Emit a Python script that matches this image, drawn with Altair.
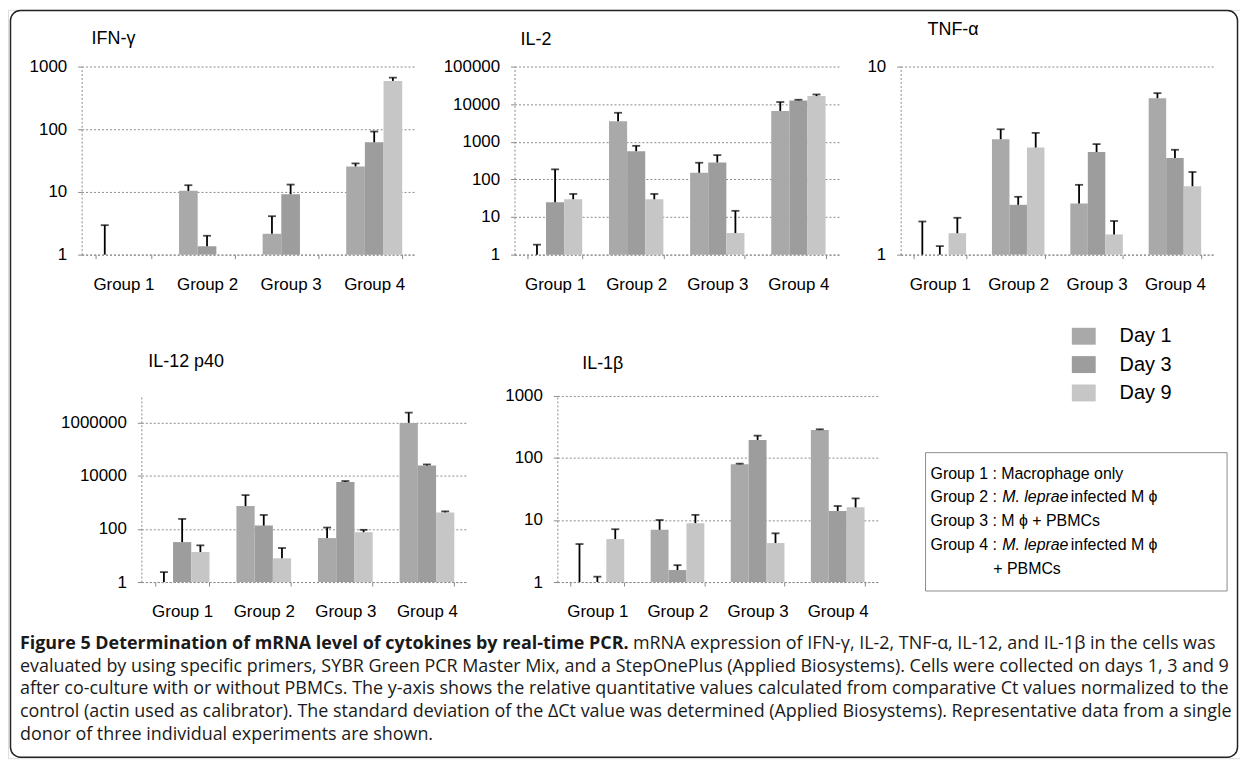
import altair as alt
import pandas as pd

# ---------------- data ----------------
groups = ["Group 1", "Group 2", "Group 3", "Group 4"]
days = ["Day 1", "Day 3", "Day 9"]
day_colors = ["#a9a9a9", "#9d9d9d", "#c6c6c6"]

titles = ["IFN-γ", "IL-2", "TNF-α", "IL-12 p40", "IL-1β"]

# relative quantity (bar height) and top of error bar, per group, per day [Day 1, Day 3, Day 9]
ifng_mean = [[1, 1, 1], [10.4, 1.36, 1], [2.15, 9.2, 1], [25.5, 62, 590]]
ifng_upper = [[2.95, 1, 1], [12.8, 2.0, 1], [4.1, 13.1, 1], [28.5, 92, 665]]

il2_mean = [[1, 24.7, 29.7], [3510, 563, 29.6], [150, 283, 3.74], [6600, 12600, 16400]]
il2_upper = [[1.84, 185, 41], [5900, 780, 41], [277, 442, 14.6], [11400, 13100, 18100]]

tnfa_mean = [[1, 1, 1.30], [4.11, 1.84, 3.71], [1.87, 3.51, 1.28], [6.79, 3.26, 2.31]]
tnfa_upper = [[1.50, 1.11, 1.57], [4.64, 2.03, 4.44], [2.35, 3.87, 1.51], [7.22, 3.61, 2.75]]

il12_mean = [[1, 31.8, 13.5], [720, 133, 7.8], [45, 5800, 75], [970000, 24300, 417]]
il12_upper = [[2.36, 236, 24], [1860, 333, 19], [112, 6300, 92], [2360000, 26500, 455]]

il1b_mean = [[1, 1, 4.93], [6.95, 1.56, 8.9], [79, 195, 4.25], [282, 14, 16]]
il1b_upper = [[4.1, 1.22, 7.1], [10, 1.87, 12.1], [81, 229, 6.1], [290, 16.8, 22.3]]

y_max = [1000, 100000, 10, 10000000, 1000]
y_ticks = [
    [1, 10, 100, 1000],
    [1, 10, 100, 1000, 10000, 100000],
    [1, 10],
    [1, 100, 10000, 1000000],
    [1, 10, 100, 1000],
]

box_lines = [
    [("Group 1 : Macrophage only", "normal")],
    [("Group 2 : ", "normal"), ("M. leprae", "italic"), ("infected M ϕ", "normal")],
    [("Group 3 : M ϕ + PBMCs", "normal")],
    [("Group 4 : ", "normal"), ("M. leprae", "italic"), ("infected M ϕ", "normal")],
    [("", "normal"), ("+ PBMCs", "normal")],
]

caption_bold = "Figure 5 Determination of mRNA level of cytokines by real-time PCR."
caption_lines = [
    "mRNA expression of IFN-γ, IL-2, TNF-α, IL-12, and IL-1β in the cells was",
    "evaluated by using specific primers, SYBR Green PCR Master Mix, and a StepOnePlus (Applied Biosystems). Cells were collected on days 1, 3 and 9",
    "after co-culture with or without PBMCs. The y-axis shows the relative quantitative values calculated from comparative Ct values normalized to the",
    "control (actin used as calibrator). The standard deviation of the ΔCt value was determined (Applied Biosystems). Representative data from a single",
    "donor of three individual experiments are shown.",
]

# ---------------- layout / style (canvas pixels) ----------------
FONT = "Liberation Sans"
CAP_FONT = "Open Sans"
CAP_SIZE = 18
GRID = "#8a8a8a"
W, H = 1238, 752

# plot-area boxes: (left, right, top, bottom)
boxes = [
    (74, 410, 57, 246),
    (509, 835, 57, 246),
    (897, 1212, 57, 246),
    (134, 462, 388, 575),
    (552, 874, 388, 575),
]
# title anchor (x, baseline y)
title_xy = [(84, 34), (515, 35), (924, 25), (141, 359), (577, 361)]

color_scale = alt.Scale(domain=days, range=day_colors)


def one_row(**kw):
    return pd.DataFrame({k: [v] for k, v in kw.items()})


def panel_layers(i, mean, upper):
    x0, x1, y0, y1 = boxes[i]
    rows = []
    for gi, g in enumerate(groups):
        for di, d in enumerate(days):
            rows.append({"group": g, "day": d, "value": mean[gi][di], "upper": upper[gi][di]})
    base = alt.Chart(pd.DataFrame(rows))
    xaxis = alt.Axis(title=None, orient="bottom", offset=y1 - H, labelAngle=0, labelFont=FONT,
                     labelFontSize=17, labelColor="black", labelPadding=18, ticks=True,
                     tickBand="extent", tickSize=4, tickColor=GRID, domainColor=GRID,
                     domainDash=[2, 2], grid=False)
    yax = alt.Axis(title=None, orient="left", offset=-x0, values=y_ticks[i], format="d",
                   labelFont=FONT, labelFontSize=17, labelColor="black", labelPadding=11,
                   tickSize=4, tickColor=GRID, grid=True, gridColor=GRID, gridDash=[2, 2],
                   domainColor=GRID, domainDash=[2, 2])

    def xs():
        return alt.Scale(domain=groups, range=[x0, x1], paddingInner=0.33, paddingOuter=0.165)

    def ys():
        return alt.Scale(type="log", domain=[1, y_max[i]], range=[y1, y0], nice=False)

    def xos():
        return alt.Scale(domain=days, paddingInner=0, paddingOuter=0)

    bars = base.mark_bar().encode(
        x=alt.X("group:N", sort=groups, scale=xs(), axis=xaxis),
        xOffset=alt.XOffset("day:N", sort=days, scale=xos()),
        y=alt.Y("value:Q", scale=ys(), axis=yax),
        y2=alt.datum(1),
        color=alt.Color("day:N", scale=color_scale, legend=None),
    )
    err = base.transform_filter("datum.upper > datum.value").mark_rule(color="black", strokeWidth=1.8).encode(
        x=alt.X("group:N", sort=groups, scale=xs(), axis=None),
        xOffset=alt.XOffset("day:N", sort=days, scale=xos()),
        y=alt.Y("value:Q", scale=ys(), axis=None), y2="upper:Q")
    cap = base.transform_filter("datum.upper > datum.value").mark_tick(
        color="black", thickness=1.8, size=8, orient="horizontal").encode(
        x=alt.X("group:N", sort=groups, scale=xs(), axis=None),
        xOffset=alt.XOffset("day:N", sort=days, scale=xos()),
        y=alt.Y("upper:Q", scale=ys(), axis=None))
    tx, ty = title_xy[i]
    ttl = alt.Chart(one_row(t=titles[i])).mark_text(
        align="left", baseline="alphabetic", font=FONT, fontSize=18, color="black").encode(
        text="t:N", x=alt.value(tx), y=alt.value(ty))
    return [bars, err, cap, ttl]


layers = []
for i, (m, u) in enumerate([(ifng_mean, ifng_upper), (il2_mean, il2_upper), (tnfa_mean, tnfa_upper),
                            (il12_mean, il12_upper), (il1b_mean, il1b_upper)]):
    layers.extend(panel_layers(i, m, u))

# ---------------- legend + group description box ----------------
leg_df = pd.DataFrame({"day": days})
leg_sq = alt.Chart(leg_df).mark_point(
    shape="M-1.2,-0.85L1.2,-0.85L1.2,0.85L-1.2,0.85Z", size=400, filled=True, opacity=1).encode(
    x=alt.value(1081),
    y=alt.Y("day:N", sort=days, scale=alt.Scale(type="point", domain=days, range=[328, 385], padding=0), axis=None),
    color=alt.Color("day:N", scale=color_scale, legend=None))
leg_tx = alt.Chart(leg_df).mark_text(align="left", baseline="middle", font=FONT, fontSize=20, color="black").encode(
    x=alt.value(1117),
    y=alt.Y("day:N", sort=days, scale=alt.Scale(type="point", domain=days, range=[328, 385], padding=0), axis=None),
    text="day:N")

box = alt.Chart(one_row(b=0)).mark_rect(fill="white", stroke="#8c8c8c", strokeWidth=1).encode(
    x=alt.value(922), x2=alt.value(1225), y=alt.value(445), y2=alt.value(584))

seg_rows = []
for li, segs in enumerate(box_lines):
    for si, (txt, style) in enumerate(segs):
        if txt:
            seg_rows.append({"line": li, "seg": si, "text": txt, "style": style})
seg_df = pd.DataFrame(seg_rows)
seg_layers = []
for (si, style, sx) in [(0, "normal", 927), (1, "italic", 999), (1, "normal", 990), (2, "normal", 1068)]:
    seg_layers.append(
        alt.Chart(seg_df).transform_filter(f"datum.seg == {si} && datum.style == '{style}'").mark_text(
            align="left", baseline="middle", font=FONT, fontSize=16, fontStyle=style, color="black").encode(
            x=alt.value(sx),
            y=alt.Y("line:O", scale=alt.Scale(type="point", domain=list(range(len(box_lines))),
                                             range=[466, 562], padding=0), axis=None),
            text="text:N"))

# ---------------- caption + outer frame ----------------
cap_df = pd.DataFrame({"line": list(range(len(caption_lines))), "text": caption_lines})


def cap_y():
    return alt.Y("line:O", scale=alt.Scale(type="point", domain=list(range(len(caption_lines))),
                                          range=[642, 734], padding=0), axis=None)


frame = alt.Chart(one_row(f=0)).mark_rect(
    fillOpacity=0, stroke="#222222", strokeWidth=1.5, cornerRadius=10).encode(
    x=alt.value(2.5), x2=alt.value(1235.5), y=alt.value(0.75), y2=alt.value(751))
cap_bold = alt.Chart(one_row(line=0, text=caption_bold)).mark_text(
    align="left", baseline="alphabetic", font=CAP_FONT, fontSize=CAP_SIZE, fontWeight="bold",
    color="#1a1a1a").encode(x=alt.value(12), y=cap_y(), text="text:N")
cap_first = alt.Chart(cap_df).transform_filter("datum.line == 0").mark_text(
    align="left", baseline="alphabetic", font=CAP_FONT, fontSize=CAP_SIZE, color="#1a1a1a").encode(
    x=alt.value(628), y=cap_y(), text="text:N")
cap_rest = alt.Chart(cap_df).transform_filter("datum.line > 0").mark_text(
    align="left", baseline="alphabetic", font=CAP_FONT, fontSize=CAP_SIZE, color="#1a1a1a").encode(
    x=alt.value(12), y=cap_y(), text="text:N")

chart = alt.layer(
    frame, *layers, leg_sq, leg_tx, box, *seg_layers, cap_bold, cap_first, cap_rest
).resolve_scale(
    x="independent", y="independent", xOffset="independent"
).resolve_axis(
    x="independent", y="independent"
).properties(
    width=W, height=H, padding=0, autosize=alt.AutoSizeParams(type="none")
).configure_view(stroke=None).configure(font=FONT)

chart.save("out.html", embed_options={"renderer": "svg", "actions": False})
